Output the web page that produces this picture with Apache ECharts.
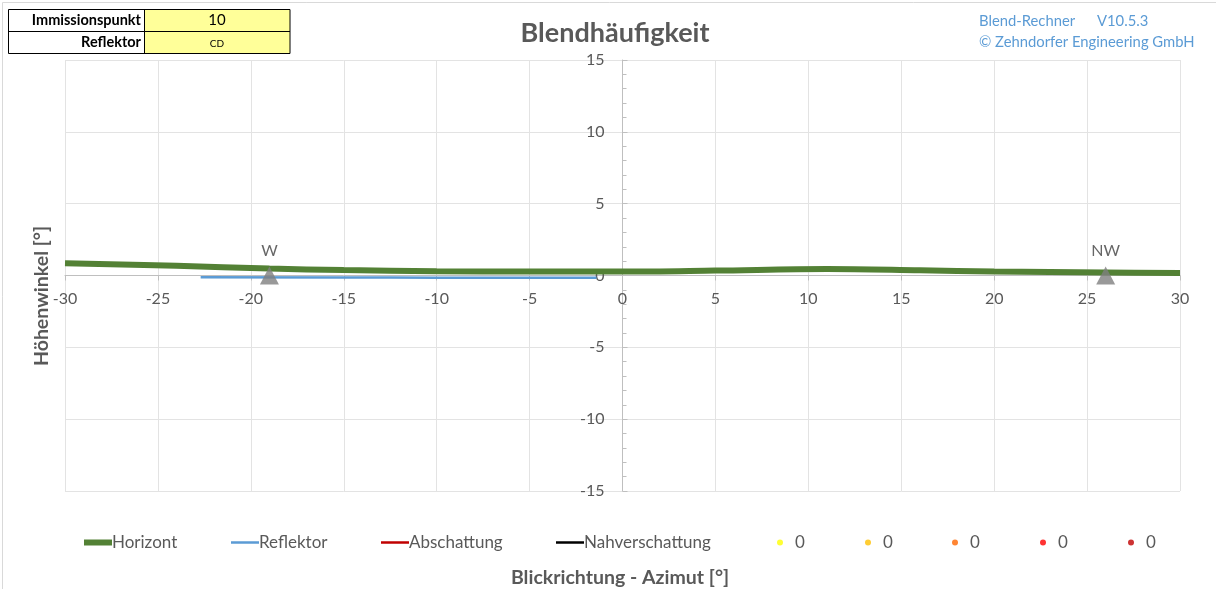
<!DOCTYPE html>
<html>
<head>
<meta charset="utf-8">
<script src="https://cdn.jsdelivr.net/npm/echarts@6/dist/echarts.min.js"></script>
<style>
html,body{margin:0;padding:0;background:#fff;}
#chart{width:1216px;height:589px;}
</style>
</head>
<body>
<div id="chart"></div>
<script>
// ---- data ----
const horizontAz  = [-30, -24, -19, -15, -10, -5, 0, 5, 11, 16, 20, 26, 30];
const horizontEl  = [0.85, 0.68, 0.48, 0.38, 0.30, 0.28, 0.27, 0.34, 0.45, 0.36, 0.27, 0.21, 0.18];
const reflektorAz = [-22.7, -15, -10, -5, -1.4];
const reflektorEl = [-0.13, -0.14, -0.15, -0.15, -0.16];
const markerAz     = [-19, 26];
const markerLabels = ['W', 'NW'];
const legendNames  = ['Horizont', 'Reflektor', 'Abschattung', 'Nahverschattung', '0', '0 ', '0  ', '0   ', '0    '];
const xTicks = {min: -30, max: 30, step: 5};
const yTicks = {min: -15, max: 15, step: 5};
const infoTable = [['Immissionspunkt', '10'], ['Reflektor', 'CD']];

const FONT = 'Lato';
const TXT = '#595959';
const pair = (xs, ys) => xs.map((x, i) => [x, ys[i]]);

const GRID = {left: 65, right: 36, top: 60, bottom: 98};
const W = 1216, H = 589;
const plotW = W - GRID.left - GRID.right, plotH = H - GRID.top - GRID.bottom;
// place axes through the origin (like Excel's crossing axes)
const xAxisOffset = -plotH * (0 - yTicks.min) / (yTicks.max - yTicks.min);
const yAxisOffset = -plotW * (0 - xTicks.min) / (xTicks.max - xTicks.min);

const lineColors = ['#538135', '#5b9bd5', '#c00000', '#000000'];
const lineWidths = [6, 2.5, 2.5, 2.5];
const dotColors = ['#ffff00', '#ffc000', '#ff6600', '#ff0000', '#c00000'];
const legendLeft = [84, 231, 381, 556, 777, 865, 952, 1040, 1128];

const series = [
  {name: legendNames[0], type: 'line', data: pair(horizontAz, horizontEl), smooth: 0.35, showSymbol: false,
   lineStyle: {color: lineColors[0], width: lineWidths[0]}, itemStyle: {color: lineColors[0]}, z: 3},
  {name: legendNames[1], type: 'line', data: pair(reflektorAz, reflektorEl), smooth: true, showSymbol: false,
   lineStyle: {color: lineColors[1], width: lineWidths[1]}, itemStyle: {color: lineColors[1]}, z: 2},
  {name: legendNames[2], type: 'line', data: [], showSymbol: false, lineStyle: {color: lineColors[2]}, itemStyle: {color: lineColors[2]}},
  {name: legendNames[3], type: 'line', data: [], showSymbol: false, lineStyle: {color: lineColors[3]}, itemStyle: {color: lineColors[3]}},
];
dotColors.forEach((c, i) => {
  series.push({name: legendNames[4 + i], type: 'scatter', data: [], itemStyle: {color: c}});
});
series.push({
  name: 'markers', type: 'scatter', z: 5,
  data: markerAz.map((a, i) => ({value: [a, 0], name: markerLabels[i]})),
  symbol: 'triangle', symbolSize: [19, 18],
  itemStyle: {color: '#808080'},
  label: {show: true, position: 'top', distance: 8, formatter: p => p.name,
          fontFamily: FONT, fontSize: 16, color: '#404040'}
});

const legends = legendNames.map((n, i) => {
  const isLine = i < 4;
  return {
    left: legendLeft[i], top: 534, orient: 'horizontal',
    data: [{name: n, icon: isLine ? 'rect' : 'circle'}],
    itemWidth: isLine ? 28 : 14,
    itemHeight: isLine ? (i === 0 ? 6 : 2.5) : 6,
    itemGap: 0, padding: 0,
    formatter: name => name.trim(),
    textStyle: {fontFamily: FONT, fontSize: 17, color: TXT, padding: [0, 0, 0, isLine ? -5 : 3]},
    selectedMode: false
  };
});

// table graphics
const tbl = [];
tbl.push({type: 'rect', shape: {x: 145, y: 9.5, width: 145, height: 44}, style: {fill: '#ffff99'}});
tbl.push({type: 'rect', shape: {x: 8.5, y: 9.5, width: 281.5, height: 44}, style: {fill: 'none', stroke: '#000', lineWidth: 1}});
tbl.push({type: 'line', shape: {x1: 8.5, y1: 31.5, x2: 290, y2: 31.5}, style: {stroke: '#000', lineWidth: 1}});
tbl.push({type: 'line', shape: {x1: 144.5, y1: 9.5, x2: 144.5, y2: 53.5}, style: {stroke: '#000', lineWidth: 1}});
infoTable.forEach((row, r) => {
  const cy = 20.5 + r * 22;
  tbl.push({type: 'text', x: 141, y: cy, style: {text: row[0], fontFamily: FONT, fontWeight: 'bold', fontSize: 14.5, fill: '#000', align: 'right', verticalAlign: 'middle'}});
  tbl.push({type: 'text', x: 217, y: cy + (r ? 1 : 0), style: {text: row[1], fontFamily: FONT, fontSize: r ? 10 : 15, fill: '#000', align: 'center', verticalAlign: 'middle'}});
});

const option = {
  animation: false,
  backgroundColor: '#ffffff',
  title: {text: 'Blendhäufigkeit', left: 610, textAlign: 'center', top: 15,
          textStyle: {fontFamily: FONT, fontWeight: 'bold', fontSize: 27, color: TXT}},
  grid: {left: GRID.left, right: GRID.right, top: GRID.top, bottom: GRID.bottom, containLabel: false},
  legend: legends,
  xAxis: {
    type: 'value', min: xTicks.min, max: xTicks.max, interval: xTicks.step,
    position: 'bottom', offset: xAxisOffset,
    axisLine: {onZero: false, lineStyle: {color: '#bfbfbf', width: 1}},
    axisTick: {show: true, length: 5, lineStyle: {color: '#bfbfbf'}},
    axisLabel: {fontFamily: FONT, fontSize: 16, color: TXT, margin: 15},
    splitLine: {show: true, lineStyle: {color: '#e3e3e3', width: 1}}
  },
  yAxis: {
    type: 'value', min: yTicks.min, max: yTicks.max, interval: yTicks.step,
    position: 'left', offset: yAxisOffset,
    axisLine: {onZero: false, lineStyle: {color: '#bfbfbf', width: 1}},
    axisTick: {show: true, inside: true, length: 5, lineStyle: {color: '#bfbfbf'}},
    minorTick: {show: true, splitNumber: 5, length: 4, lineStyle: {color: '#bfbfbf'}},
    axisLabel: {fontFamily: FONT, fontSize: 16, color: TXT, margin: 18},
    splitLine: {show: true, lineStyle: {color: '#e3e3e3', width: 1}}
  },
  graphic: [
    {type: 'rect', shape: {x: 2.5, y: 2.5, width: 1230, height: 600}, style: {fill: 'none', stroke: '#d9d9d9', lineWidth: 1}, z: -1},
    ...tbl,
    {type: 'text', x: 979, y: 21, style: {text: 'Blend-Rechner', fontFamily: FONT, fontSize: 14.8, fill: '#5b9bd5', verticalAlign: 'middle'}},
    {type: 'text', x: 1097, y: 21, style: {text: 'V10.5.3', fontFamily: FONT, fontSize: 14.8, fill: '#5b9bd5', verticalAlign: 'middle'}},
    {type: 'text', x: 979, y: 42, style: {text: '© Zehndorfer Engineering GmbH', fontFamily: FONT, fontSize: 14.8, fill: '#5b9bd5', verticalAlign: 'middle'}},
    {type: 'text', x: 620, y: 578, style: {text: 'Blickrichtung - Azimut [°]', fontFamily: FONT, fontWeight: 'bold', fontSize: 19.5, fill: TXT, align: 'center', verticalAlign: 'middle'}},
    {type: 'text', x: 42, y: 296, rotation: Math.PI / 2, style: {text: 'Höhenwinkel [°]', fontFamily: FONT, fontWeight: 'bold', fontSize: 19.5, fill: TXT, align: 'center', verticalAlign: 'middle'}}
  ],
  series: series
};

const chart = echarts.init(document.getElementById('chart'), null, {renderer: 'canvas'});
chart.setOption(option);
</script>
</body>
</html>
